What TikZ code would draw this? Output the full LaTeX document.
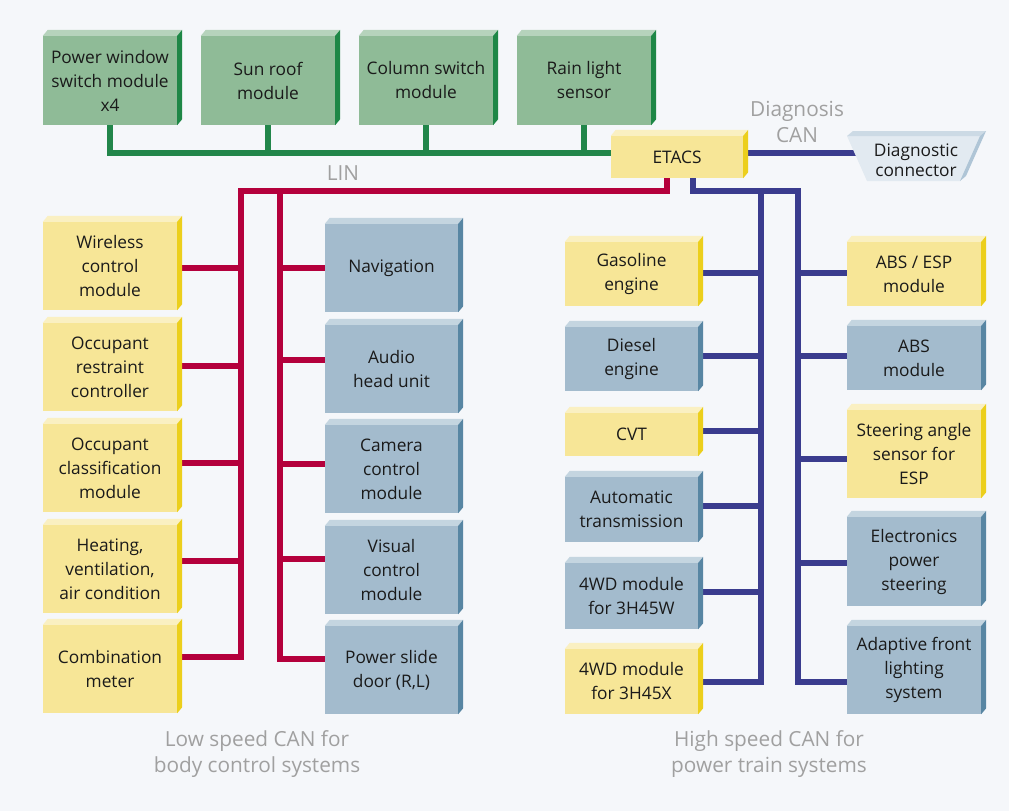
\documentclass[tikz,border=0pt]{standalone}
\usepackage{fontspec}
\setmainfont{Open Sans}
\definecolor{bgc}{HTML}{F5F7FA}
\definecolor{txt}{HTML}{1A1A1A}
\definecolor{greyt}{HTML}{A0A0A0}
\definecolor{gF}{HTML}{8FBB97}
\definecolor{gT}{HTML}{B6D3BC}
\definecolor{gS}{HTML}{1E8746}
\definecolor{yF}{HTML}{F7E697}
\definecolor{yT}{HTML}{FAF0C2}
\definecolor{yS}{HTML}{ECCF1C}
\definecolor{bF}{HTML}{A3BBCD}
\definecolor{bT}{HTML}{C4D5E0}
\definecolor{bS}{HTML}{5886A3}
\definecolor{redc}{HTML}{B4003C}
\definecolor{bluec}{HTML}{3A3C8E}
\definecolor{greenc}{HTML}{22864A}
\definecolor{dF}{HTML}{E2EAF1}
\definecolor{dT}{HTML}{CCDAE5}
\definecolor{dS}{HTML}{AFC5D6}
\pgfdeclarelayer{bg}\pgfdeclarelayer{wires}\pgfsetlayers{bg,wires,main}
\tikzset{
  box/.style={inner sep=0pt, align=center, font=\fontsize{17.3}{24}\selectfont, text=txt},
  gfront/.style={box, fill=gF}, gtop/.style={fill=gT}, gside/.style={fill=gS},
  yfront/.style={box, fill=yF}, ytop/.style={fill=yT}, yside/.style={fill=yS},
  bfront/.style={box, fill=bF}, btop/.style={fill=bT}, bside/.style={fill=bS},
  glabel/.style={inner sep=0pt, align=center, font=\fontsize{20.8}{25.5}\selectfont, text=greyt},
  wire/.style={line width=5.5pt, line join=miter, line cap=butt},
  redline/.style={wire, draw=redc},
  blueline/.style={wire, draw=bluec},
  greenline/.style={wire, draw=greenc}
}
\newcommand\ebox[7]{%
  \pgfmathsetmacro\bw{#4-#2}\pgfmathsetmacro\bh{#5-#3}%
  \pgfmathsetmacro\bx{(#2+#4)/2}\pgfmathsetmacro\by{(#3+#5)/2}%
  \node[#6front, minimum width=\bw pt, minimum height=\bh pt] (#1) at (\bx,\by) {#7};
  \fill[#6top] (#1.north west) -- ++(5pt,6pt) -- ([shift={(5pt,6pt)}]#1.north east) -- (#1.north east) -- cycle;
  \fill[#6side] (#1.north east) -- ++(5pt,6pt) -- ([shift={(5pt,6pt)}]#1.south east) -- (#1.south east) -- cycle;
}
\begin{document}
\begin{tikzpicture}[x=1pt,y=-1pt]
\useasboundingbox (0,0) rectangle (1009,811);
\begin{pgfonlayer}{bg}
\fill[bgc] (0,0) rectangle (1009,811);
\end{pgfonlayer}
% top row
\ebox{pw}{43}{36}{177}{125}{g}{Power window\\switch module\\x4}
\ebox{sun}{201}{36}{335}{125}{g}{Sun roof\\module}
\ebox{col}{359}{36}{493}{125}{g}{Column switch\\module}
\ebox{rain}{517}{36}{651}{125}{g}{Rain light\\sensor}
\ebox{etacs}{611}{136}{743}{178}{y}{ETACS}
% diagnostic connector
\fill[dF] (847,136) -- (980,136) -- (960,181) -- (867,181) -- cycle;
\fill[dT] (847,136) -- (853,131) -- (986,131) -- (980,136) -- cycle;
\fill[dS] (980,136) -- (986,131) -- (966,176) -- (960,181) -- cycle;
\node[box, font=\fontsize{17.3}{20}\selectfont] (diag) at (916,160) {Diagnostic\\connector};
% left column
\ebox{wl}{43}{222}{177}{310}{y}{Wireless\\control\\module}
\ebox{orc}{43}{323}{177}{411}{y}{Occupant\\restraint\\controller}
\ebox{ocm}{43}{424}{177}{512}{y}{Occupant\\classification\\module}
\ebox{hvac}{43}{525}{177}{613}{y}{Heating,\\ventilation,\\air condition}
\ebox{comb}{43}{625}{177}{713}{y}{Combination\\meter}
% middle column
\ebox{nav}{325}{224}{458}{312}{b}{Navigation}
\ebox{audio}{325}{325}{458}{413}{b}{Audio\\head unit}
\ebox{cam}{325}{425}{458}{513}{b}{Camera\\control\\module}
\ebox{vis}{325}{526}{458}{614}{b}{Visual\\control\\module}
\ebox{psd}{325}{626}{458}{714}{b}{Power slide\\door (R,L)}
% power train column
\ebox{gas}{565}{242}{698}{306}{y}{Gasoline\\engine}
\ebox{dsl}{565}{327}{698}{391}{b}{Diesel\\engine}
\ebox{cvt}{565}{413}{698}{456}{y}{CVT}
\ebox{at}{565}{477}{698}{542}{b}{Automatic\\transmission}
\ebox{wdw}{565}{563}{698}{629}{b}{4WD module\\for 3H45W}
\ebox{wdx}{565}{649}{698}{714}{y}{4WD module\\for 3H45X}
% right column
\ebox{abse}{847}{242}{981}{306}{y}{ABS / ESP\\module}
\ebox{abs}{847}{326}{981}{390}{b}{ABS\\module}
\ebox{steer}{847}{410}{981}{498}{y}{Steering angle\\sensor for\\ESP}
\ebox{eps}{847}{517}{981}{606}{b}{Electronics\\power\\steering}
\ebox{afl}{847}{626}{981}{714}{b}{Adaptive front\\lighting\\system}
% labels
\node[glabel] (lbdiag) at (797,122) {Diagnosis\\CAN};
\node[glabel] (lblin) at (343,173) {LIN};
\node[glabel] (lblow) at (257,754) {Low speed CAN for\\body control systems};
\node[glabel] (lbhigh) at (769,754) {High speed CAN for\\power train systems};
% bus coordinates
\coordinate (linL) at (241,191);
\coordinate (linR) at (280,191);
\coordinate (hsL) at (761,191);
\coordinate (hsR) at (798,191);
\begin{pgfonlayer}{wires}
% green LIN bus
\draw[greenline] (pw.south) |- (etacs.west |- 0,153);
\foreach \n in {sun,col,rain} \draw[greenline] (\n.south) -- (\n.south |- 0,153);
% diagnosis CAN
\draw[blueline] (etacs.east |- 0,153) -- (diag.west |- 0,153);
% low speed CAN
\draw[redline] ([xshift=-10pt]etacs.south) |- (linL) -- (linL |- 0,657) -- (comb.east |- 0,657);
\draw[redline] (linR) -- (linR |- 0,659) -- (psd.west |- 0,659);
\draw[redline] (wl.east |- 0,268) -- (linL |- 0,268);
\draw[redline] (orc.east |- 0,366) -- (linL |- 0,366);
\draw[redline] (ocm.east |- 0,463) -- (linL |- 0,463);
\draw[redline] (hvac.east |- 0,561) -- (linL |- 0,561);
\draw[redline] (linR |- 0,268) -- (nav.west |- 0,268);
\draw[redline] (linR |- 0,360) -- (audio.west |- 0,360);
\draw[redline] (linR |- 0,464) -- (cam.west |- 0,464);
\draw[redline] (linR |- 0,559) -- (vis.west |- 0,559);
% high speed CAN
\draw[blueline] ([xshift=16pt]etacs.south) |- (hsR) -- (hsR |- 0,682) -- (afl.west |- 0,682);
\draw[blueline] (hsL) -- (hsL |- 0,682) -- (wdx.east |- 0,682);
\draw[blueline] (gas.east |- 0,273) -- (hsL |- 0,273);
\draw[blueline] (dsl.east |- 0,356) -- (hsL |- 0,356);
\draw[blueline] (cvt.east |- 0,431) -- (hsL |- 0,431);
\draw[blueline] (at.east |- 0,506) -- (hsL |- 0,506);
\draw[blueline] (wdw.east |- 0,592) -- (hsL |- 0,592);
\draw[blueline] (hsR |- 0,273) -- (abse.west |- 0,273);
\draw[blueline] (hsR |- 0,356) -- (abs.west |- 0,356);
\draw[blueline] (hsR |- 0,459) -- (steer.west |- 0,459);
\draw[blueline] (hsR |- 0,563) -- (eps.west |- 0,563);
\end{pgfonlayer}
\end{tikzpicture}
\end{document}
